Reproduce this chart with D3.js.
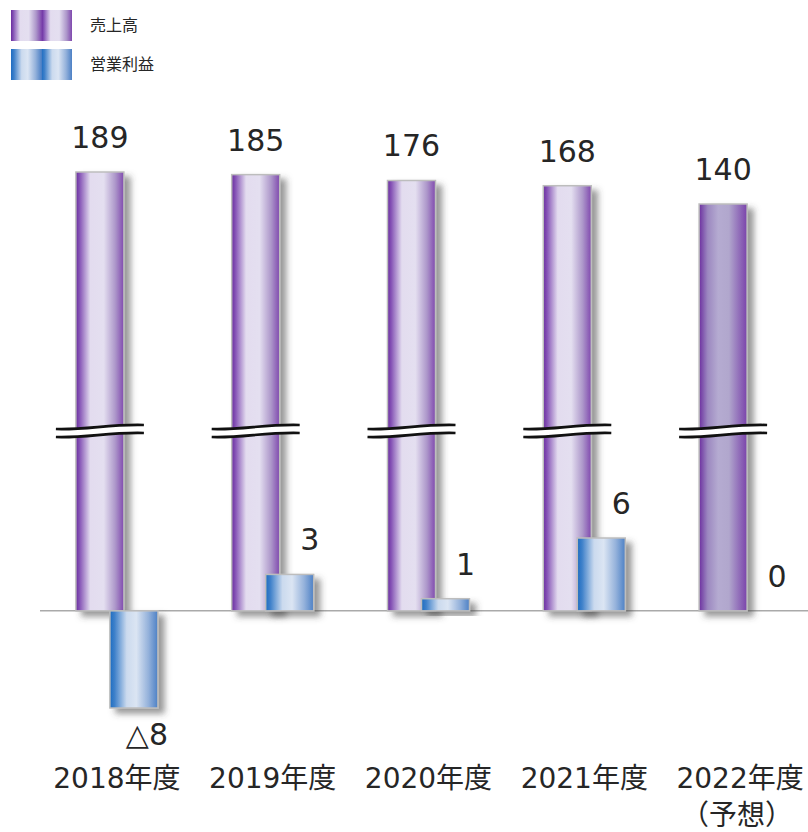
<!DOCTYPE html>
<html>
<head>
<meta charset="utf-8">
<script src="https://cdn.jsdelivr.net/npm/d3@7"></script>
<style>
  body { margin: 0; background: #fff; }
  svg text { font-family: "DejaVu Sans", "Noto Sans CJK JP", sans-serif; fill: #262626; }
</style>
</head>
<body>
<div id="chart"></div>
<script>
const years = ["2018年度", "2019年度", "2020年度", "2021年度", "2022年度"];
const subLabels = ["", "", "", "", "（予想）"];
const sales = [189, 185, 176, 168, 140];
const profit = [-8, 3, 1, 6, 0];
const profitLabels = ["△8", "3", "1", "6", "0"];
const legendNames = ["売上高", "営業利益"];

const width = 808, height = 832;
const svg = d3.select("#chart")
  .append("svg")
  .attr("width", width)
  .attr("height", height);

const defs = svg.append("defs");

function gradient(id, stops, repeat) {
  const g = defs.append("linearGradient")
    .attr("id", id)
    .attr("x1", 0).attr("y1", 0)
    .attr("x2", repeat ? 0.5 : 1).attr("y2", 0);
  if (repeat) g.attr("spreadMethod", "repeat");
  stops.forEach(([o, c]) => g.append("stop").attr("offset", o).attr("stop-color", c));
}

const purpleStops = [[0, "#6a2c9f"], [0.08, "#8655b6"], [0.3, "#e3dcef"], [0.58, "#e4dff0"], [0.82, "#ad97ca"], [1, "#7f48ae"]];
const forecastStops = [[0, "#6c30a0"], [0.18, "#9c88c0"], [0.4, "#b5abd1"], [0.62, "#b1a7cd"], [0.85, "#8f6ab8"], [1, "#7a42ab"]];
const blueStops = [[0, "#1d6cc1"], [0.1, "#3f81ca"], [0.35, "#cbdaee"], [0.55, "#dbe5f3"], [0.8, "#95b2db"], [1, "#4c80c5"]];

gradient("gPurple", purpleStops, false);
gradient("gForecast", forecastStops, false);
gradient("gBlue", blueStops, false);
gradient("gPurpleLeg", purpleStops, true);
gradient("gBlueLeg", blueStops, true);

const shadow = defs.append("filter").attr("id", "shadow")
  .attr("x", "-20%").attr("y", "-20%").attr("width", "160%").attr("height", "160%");
shadow.append("feDropShadow")
  .attr("dx", 6).attr("dy", 5).attr("stdDeviation", 3)
  .attr("flood-color", "#444").attr("flood-opacity", 0.55);

const x = d3.scaleBand().domain(years).range([39, 818]);
const ySales = d3.scaleLinear().domain([140, 189]).range([204, 172]);
const yProfit = d3.scaleLinear().domain([-8, 6]).range([708, 538]);
const y0 = yProfit(0);
const barW = 48;
const center = d => x(d) + x.bandwidth() / 2;

// baseline
svg.append("line")
  .attr("x1", 40).attr("x2", width)
  .attr("y1", y0).attr("y2", y0)
  .attr("stroke", "#aaa").attr("stroke-width", 1.5);

// sales bars
svg.selectAll(".sales")
  .data(years)
  .enter()
  .append("rect")
  .attr("class", "sales")
  .attr("x", d => center(d) - 41)
  .attr("y", (d, i) => ySales(sales[i]))
  .attr("width", barW)
  .attr("height", (d, i) => y0 - ySales(sales[i]))
  .attr("fill", (d, i) => i === years.length - 1 ? "url(#gForecast)" : "url(#gPurple)")
  .attr("stroke", "#bdbdbd")
  .attr("stroke-width", 1.5)
  .attr("filter", "url(#shadow)");

// break marks
const breakY = 431;
const wave = (dy) => `M-44,${dy + 2} C-12,${dy + 3} 8,${dy - 3} 44,${dy - 2}`;
years.forEach(d => {
  const g = svg.append("g").attr("transform", `translate(${center(d) - 17},${breakY})`);
  g.append("path")
    .attr("d", `M-44,-2 C-12,-1 8,-7 44,-6 L44,2 C8,1 -12,7 -44,6 Z`)
    .attr("fill", "#fff");
  g.append("path").attr("d", wave(-4)).attr("fill", "none").attr("stroke", "#111").attr("stroke-width", 2.6);
  g.append("path").attr("d", wave(4)).attr("fill", "none").attr("stroke", "#111").attr("stroke-width", 2.6);
});

// profit bars
svg.selectAll(".profit")
  .data(years.filter((d, i) => profit[i] !== 0))
  .enter()
  .append("rect")
  .attr("class", "profit")
  .attr("x", d => center(d) - 7)
  .attr("y", d => Math.min(yProfit(profit[years.indexOf(d)]), y0))
  .attr("width", barW)
  .attr("height", d => Math.abs(yProfit(profit[years.indexOf(d)]) - y0))
  .attr("fill", "url(#gBlue)")
  .attr("stroke", "#bdbdbd")
  .attr("stroke-width", 1.5)
  .attr("filter", "url(#shadow)");

// sales labels
svg.selectAll(".salesLabel")
  .data(years)
  .enter()
  .append("text")
  .attr("x", d => center(d) - 17)
  .attr("y", (d, i) => ySales(sales[i]) - 24)
  .attr("text-anchor", "middle")
  .style("font-size", "30px")
  .text((d, i) => sales[i]);

// profit labels
svg.selectAll(".profitLabel")
  .data(years)
  .enter()
  .append("text")
  .attr("x", (d, i) => center(d) + 17 + (profit[i] < 0 ? 13 : 20))
  .attr("y", (d, i) => profit[i] < 0 ? yProfit(profit[i]) + 37 : yProfit(profit[i]) - 24)
  .attr("text-anchor", "middle")
  .style("font-size", "30px")
  .text((d, i) => profitLabels[i]);

// category labels
svg.selectAll(".cat")
  .data(years)
  .enter()
  .append("text")
  .attr("x", d => center(d))
  .attr("y", 788)
  .attr("text-anchor", "middle")
  .style("font-size", "28px")
  .text(d => d);

svg.selectAll(".sub")
  .data(years)
  .enter()
  .append("text")
  .attr("x", d => center(d) - 3)
  .attr("y", 825)
  .attr("text-anchor", "middle")
  .style("font-size", "28px")
  .text((d, i) => subLabels[i]);

// legend
const legend = svg.append("g");
legendNames.forEach((name, i) => {
  legend.append("rect")
    .attr("x", 11).attr("y", 10 + i * 39)
    .attr("width", 61).attr("height", 31)
    .attr("fill", i === 0 ? "url(#gPurpleLeg)" : "url(#gBlueLeg)");
  legend.append("text")
    .attr("x", 90).attr("y", 31 + i * 39)
    .style("font-size", "16px")
    .style("font-family", "'Noto Sans CJK JP', sans-serif")
    .text(name);
});
</script>
</body>
</html>
